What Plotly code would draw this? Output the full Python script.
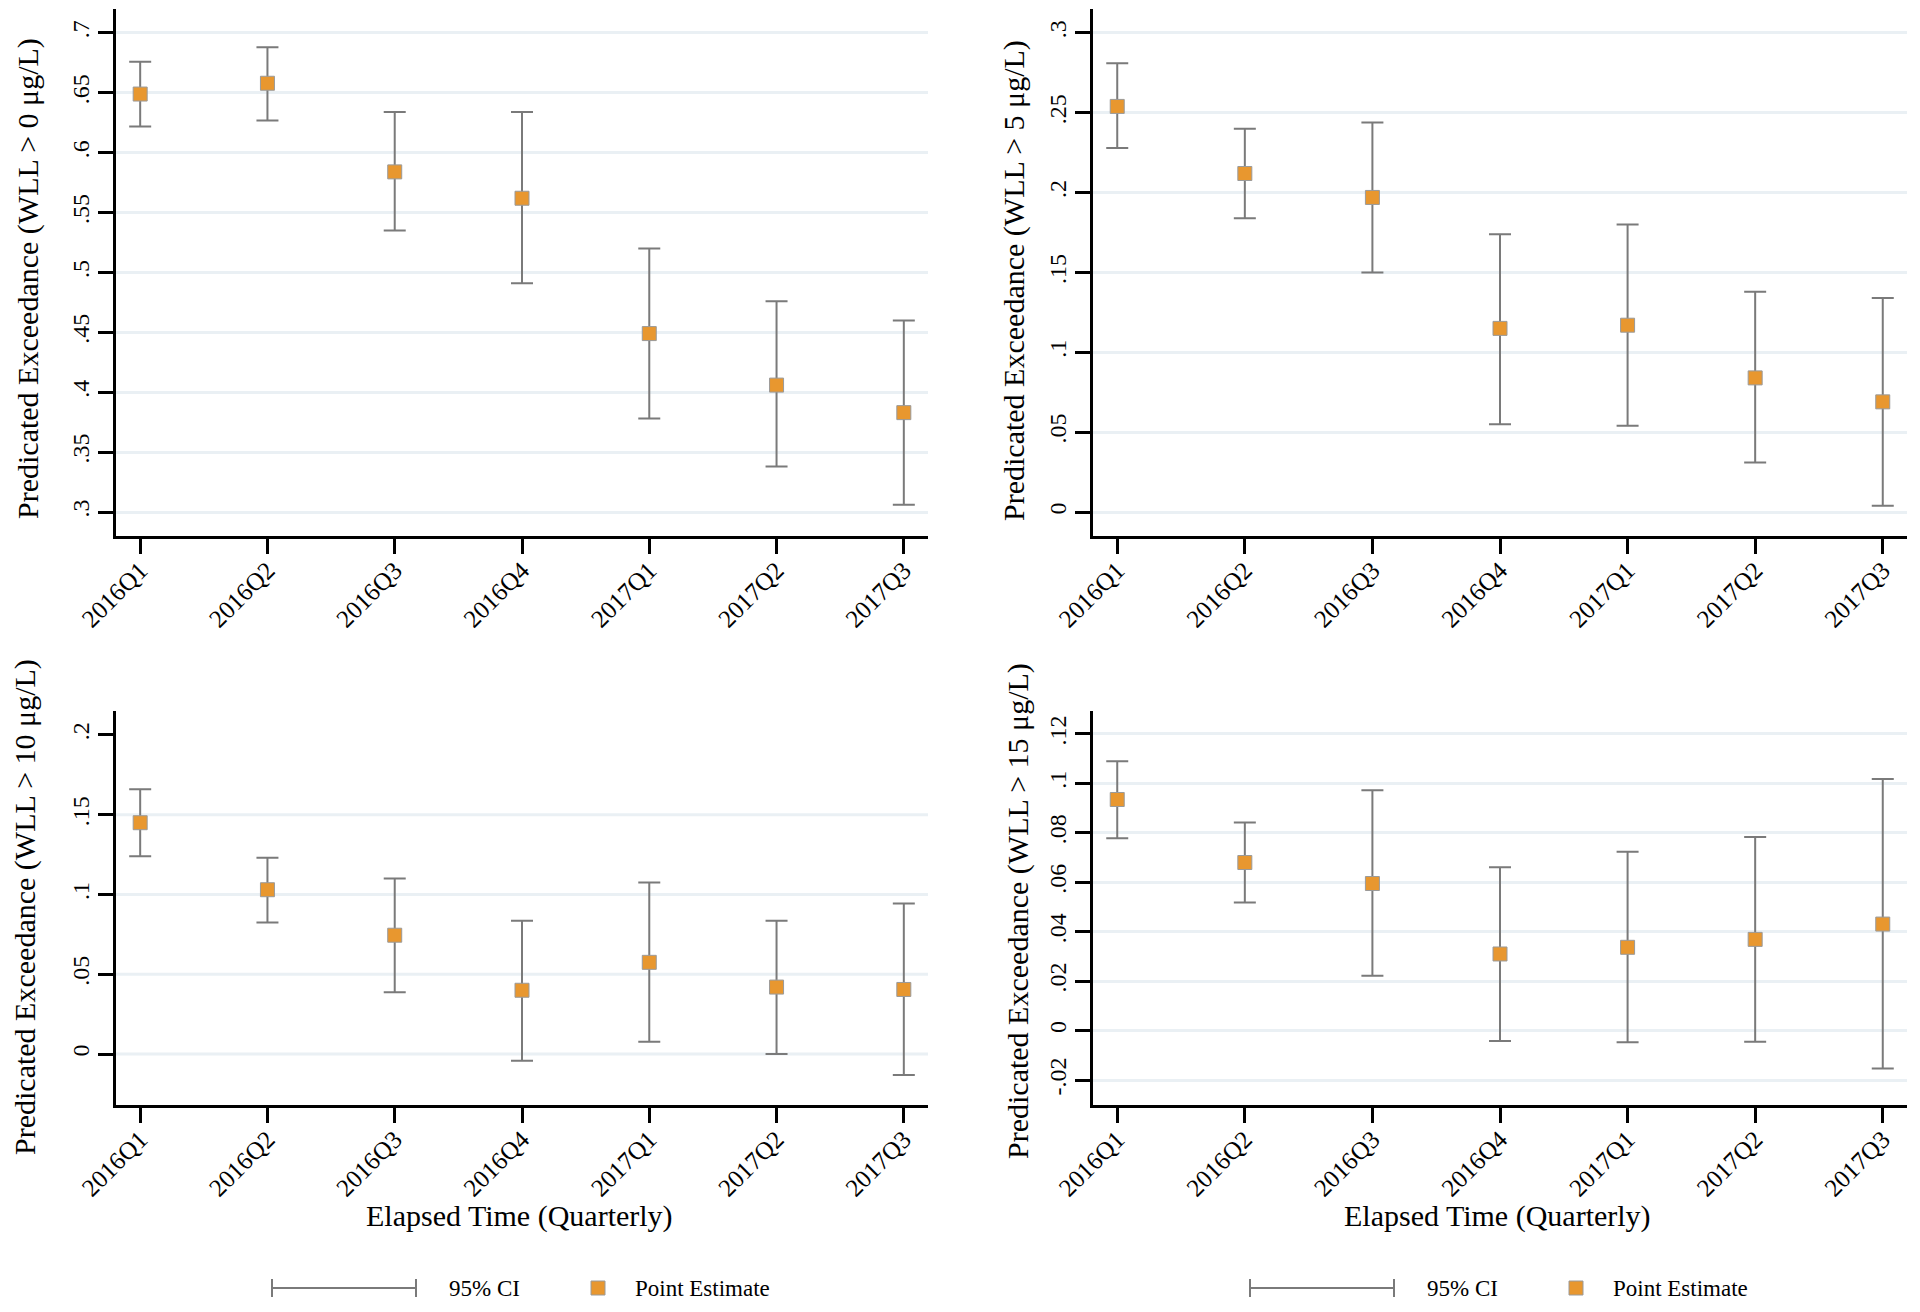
import plotly.graph_objects as go

W, H = 1920, 1312

quarters = ["2016Q1", "2016Q2", "2016Q3", "2016Q4", "2017Q1", "2017Q2", "2017Q3"]

# WLL > 0
est_0 = [0.649, 0.658, 0.584, 0.562, 0.449, 0.406, 0.383]
hi_0 = [0.676, 0.688, 0.634, 0.634, 0.520, 0.476, 0.460]
lo_0 = [0.622, 0.627, 0.535, 0.491, 0.378, 0.338, 0.306]

# WLL > 5
est_5 = [0.254, 0.212, 0.197, 0.115, 0.117, 0.084, 0.069]
hi_5 = [0.281, 0.240, 0.244, 0.174, 0.180, 0.138, 0.134]
lo_5 = [0.228, 0.184, 0.150, 0.055, 0.054, 0.031, 0.004]

# WLL > 10
est_10 = [0.145, 0.103, 0.0745, 0.040, 0.0575, 0.042, 0.0405]
hi_10 = [0.166, 0.123, 0.110, 0.0835, 0.1075, 0.0835, 0.0943]
lo_10 = [0.124, 0.0825, 0.0388, -0.0042, 0.0077, 0.0, -0.0131]

# WLL > 15
est_15 = [0.0935, 0.068, 0.0595, 0.031, 0.0337, 0.0369, 0.0431]
hi_15 = [0.109, 0.0842, 0.0972, 0.0661, 0.0724, 0.0783, 0.1018]
lo_15 = [0.0778, 0.0518, 0.0222, -0.0042, -0.0047, -0.0045, -0.0153]

yt_0 = [0.7, 0.65, 0.6, 0.55, 0.5, 0.45, 0.4, 0.35, 0.3]
yl_0 = [".7", ".65", ".6", ".55", ".5", ".45", ".4", ".35", ".3"]
yt_5 = [0.3, 0.25, 0.2, 0.15, 0.1, 0.05, 0.0]
yl_5 = [".3", ".25", ".2", ".15", ".1", ".05", "0"]
yt_10 = [0.2, 0.15, 0.1, 0.05, 0.0]
yl_10 = [".2", ".15", ".1", ".05", "0"]
grid_10 = [0.15, 0.1, 0.05, 0.0]
yt_15 = [0.12, 0.1, 0.08, 0.06, 0.04, 0.02, 0.0, -0.02]
yl_15 = [".12", ".1", ".08", ".06", ".04", ".02", "0", "-.02"]

titles = ["Predicated Exceedance (WLL > 0 μg/L)",
          "Predicated Exceedance (WLL > 5 μg/L)",
          "Predicated Exceedance (WLL > 10 μg/L)",
          "Predicated Exceedance (WLL > 15 μg/L)"]
xtitle = "Elapsed Time (Quarterly)"
legend_ci = "95% CI"
legend_pt = "Point Estimate"

FONT = "Liberation Serif, Times New Roman, serif"
ORANGE = "#E8972F"
GRAY = "#7a7a7a"
GRID = "#EAF0F4"

def px_x(p):
    return p / W

def px_y(p):
    return 1 - p / H

panels = [
    dict(est=est_0, hi=hi_0, lo=lo_0, tv=yt_0, tl=yl_0, rng=[0.28, 0.72],
         xd=[116, 928], yd=[9, 536], tx=28, ty=279),
    dict(est=est_5, hi=hi_5, lo=lo_5, tv=yt_5, tl=yl_5, rng=[-0.015, 0.315],
         xd=[1093, 1907], yd=[9, 536], tx=1014, ty=280),
    dict(est=est_10, hi=hi_10, lo=lo_10, tv=yt_10, tl=yl_10, rng=[-0.0319, 0.215],
         xd=[116, 928], yd=[711, 1105], tx=25, ty=907),
    dict(est=est_15, hi=hi_15, lo=lo_15, tv=yt_15, tl=yl_15, rng=[-0.0301, 0.1293],
         xd=[1093, 1907], yd=[711, 1105], tx=1018, ty=911),
]

fig = go.Figure()
layout = dict(width=W, height=H, autosize=False,
              margin=dict(l=0, r=0, t=0, b=0, pad=0, autoexpand=False),
              paper_bgcolor="white", plot_bgcolor="white", showlegend=False,
              font=dict(family=FONT, color="black"))
annotations = []
shapes = []

for i, p in enumerate(panels):
    n = "" if i == 0 else str(i + 1)
    xa, ya = "x" + n, "y" + n
    up = [h - e for h, e in zip(p["hi"], p["est"])]
    dn = [e - l for e, l in zip(p["est"], p["lo"])]
    fig.add_trace(go.Scatter(
        x=quarters, y=p["est"], mode="markers", xaxis=xa, yaxis=ya,
        marker=dict(symbol="square", size=14, color=ORANGE,
                    line=dict(width=1, color="#9a9a9a")),
        error_y=dict(type="data", symmetric=False, array=up, arrayminus=dn,
                     color=GRAY, thickness=2, width=11),
        cliponaxis=False,
    ))
    axis_common = dict(showline=True, linecolor="black", linewidth=2.5,
                       ticks="outside", ticklen=15, tickwidth=2.5, tickcolor="black",
                       zeroline=False, automargin=False)
    layout["xaxis" + n] = dict(axis_common, type="category", range=[-0.19, 6.19],
                               domain=[px_x(p["xd"][0]), px_x(p["xd"][1])],
                               anchor=ya, showgrid=False, tickangle=-45,
                               ticklabelstandoff=-8,
                               tickfont=dict(family=FONT, size=25, color="black"))
    show_grid = (i != 2)
    layout["yaxis" + n] = dict(axis_common, range=p["rng"],
                               domain=[px_y(p["yd"][1]), px_y(p["yd"][0])],
                               anchor=xa, tickmode="array", tickvals=p["tv"],
                               ticktext=p["tl"], tickangle=-90,
                               tickfont=dict(family=FONT, size=24, color="black"),
                               showgrid=show_grid, gridcolor=GRID, gridwidth=3)
    if i == 2:
        for g in grid_10:
            shapes.append(dict(type="line", xref="x3 domain", yref="y3",
                               x0=0, x1=1, y0=g, y1=g, layer="below",
                               line=dict(color=GRID, width=3)))
    annotations.append(dict(text=titles[i], textangle=-90, showarrow=False,
                            xref="paper", yref="paper", x=px_x(p["tx"]), y=px_y(p["ty"]),
                            xanchor="center", yanchor="middle",
                            font=dict(family=FONT, size=30, color="black")))

# x-axis titles
for cx in [519, 1497]:
    annotations.append(dict(text=xtitle, showarrow=False, xref="paper", yref="paper",
                            x=px_x(cx), y=px_y(1216), xanchor="center", yanchor="middle",
                            font=dict(family=FONT, size=30, color="black")))

# legends (one under each column)
for off in [0, 978]:
    ly = 1288
    x0, x1 = 272 + off, 416 + off
    shapes.append(dict(type="line", xref="paper", yref="paper",
                       x0=px_x(x0), x1=px_x(x1), y0=px_y(ly), y1=px_y(ly),
                       line=dict(color=GRAY, width=2)))
    for xc in (x0, x1):
        shapes.append(dict(type="line", xref="paper", yref="paper",
                           x0=px_x(xc), x1=px_x(xc), y0=px_y(ly - 9), y1=px_y(ly + 9),
                           line=dict(color=GRAY, width=2)))
    mc = 598 + off
    shapes.append(dict(type="rect", xref="paper", yref="paper",
                       x0=px_x(mc - 7), x1=px_x(mc + 7),
                       y0=px_y(ly + 7), y1=px_y(ly - 7),
                       fillcolor=ORANGE, line=dict(color="#9a9a9a", width=1)))
    annotations.append(dict(text=legend_ci, showarrow=False, xref="paper", yref="paper",
                            x=px_x(447 + off), y=px_y(ly), xanchor="left", yanchor="middle",
                            font=dict(family=FONT, size=23, color="black")))
    annotations.append(dict(text=legend_pt, showarrow=False, xref="paper", yref="paper",
                            x=px_x(633 + off), y=px_y(ly), xanchor="left", yanchor="middle",
                            font=dict(family=FONT, size=23, color="black")))

layout["annotations"] = annotations
layout["shapes"] = shapes
fig.update_layout(**layout)
fig.write_html("out.html", config={"displayModeBar": False},
               post_script="document.body.style.margin='0';"
                           "document.body.style.overflow='hidden';")
